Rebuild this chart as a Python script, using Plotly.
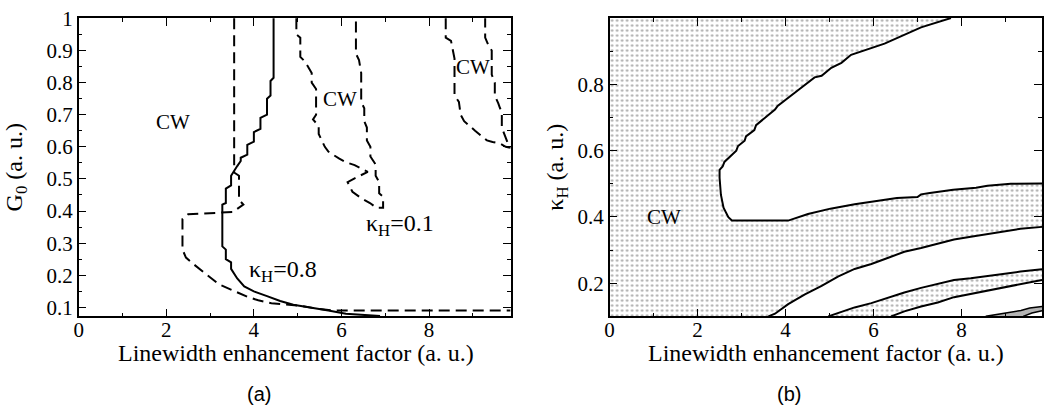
import plotly.graph_objects as go

# ---------------- data: panel (a) ----------------
XMAX_A = 9.86
YMIN_A = 0.072
YMAX_A = 1.001

# solid boundary (kappa_H = 0.8)
solid_x = [4.45, 4.45, 4.38, 4.38, 4.30, 4.30, 4.15, 4.15, 4.0, 4.0, 3.85, 3.85, 3.70, 3.70,
           3.62, 3.55, 3.48, 3.48, 3.36, 3.36, 3.28, 3.28, 3.36, 3.36, 3.48, 3.48, 3.62, 3.78,
           4.0, 4.3, 4.6, 4.9, 5.3, 5.7, 6.1, 6.88]
solid_y = [1.0, 0.815, 0.805, 0.76, 0.75, 0.70, 0.69, 0.656, 0.646, 0.616, 0.606, 0.576, 0.566,
           0.556, 0.54, 0.525, 0.51, 0.48, 0.47, 0.425, 0.42, 0.29, 0.28, 0.25, 0.24, 0.22, 0.19,
           0.165, 0.15, 0.135, 0.12, 0.108, 0.10, 0.09, 0.08, 0.073]

# dashed boundary, left branch
dash1_x = [3.55, 3.55, 3.66, 3.66, 3.76, 3.52, 2.5, 2.37, 2.37, 2.45, 2.62, 2.85, 3.0, 3.2, 3.4,
           3.62, 3.85, 4.1, 4.4, 4.7, 5.0, 5.4, 5.8, 9.86]
dash1_y = [1.0, 0.52, 0.51, 0.435, 0.42, 0.397, 0.39, 0.375, 0.28, 0.255, 0.235, 0.21, 0.193,
           0.172, 0.16, 0.146, 0.133, 0.122, 0.113, 0.109, 0.106, 0.097, 0.09, 0.09]

# dashed boundary, middle CW island
dash2_x = [4.97, 4.97, 5.06, 5.06, 5.17, 5.32, 5.32, 5.42, 5.42, 5.35, 5.48, 5.48, 5.62, 5.7,
           5.95, 6.1, 6.3, 6.6, 6.3, 6.14, 6.25, 6.45, 6.65, 6.8, 6.95, 6.95, 6.86, 6.86, 6.78,
           6.78, 6.66, 6.66, 6.58, 6.58, 6.52, 6.52, 6.45, 6.45, 6.40, 6.33, 6.33]
dash2_y = [1.0, 0.95, 0.94, 0.88, 0.865, 0.83, 0.80, 0.78, 0.70, 0.685, 0.665, 0.64, 0.60, 0.585,
           0.563, 0.552, 0.543, 0.522, 0.502, 0.49, 0.46, 0.44, 0.425, 0.41, 0.41, 0.445, 0.455,
           0.49, 0.51, 0.545, 0.57, 0.60, 0.62, 0.66, 0.68, 0.72, 0.74, 0.83, 0.87, 0.89, 1.0]

# dashed boundary, upper-right CW island
dash3_x = [8.38, 8.38, 8.5, 8.58, 8.58, 8.68, 8.72, 8.8, 9.05, 9.32, 9.45, 9.62, 9.75, 9.86,
           9.8, 9.72, 9.66, 9.66, 9.62, 9.58, 9.5, 9.5, 9.43, 9.43, 9.36, 9.28, 9.28]
dash3_y = [1.0, 0.94, 0.93, 0.875, 0.76, 0.74, 0.70, 0.68, 0.65, 0.62, 0.615, 0.61, 0.60, 0.597,
           0.61, 0.64, 0.66, 0.71, 0.72, 0.735, 0.76, 0.80, 0.825, 0.90, 0.915, 0.94, 1.0]

# ---------------- data: panel (b) ----------------
XMAX_B = 9.83
YMIN_B = 0.1
YMAX_B = 1.0

upper_x = [7.76, 7.08, 6.25, 5.95, 5.49, 5.27, 5.04, 4.82, 4.66, 4.29, 3.82, 3.76, 3.33, 3.29,
           3.10, 3.07, 2.92, 2.88, 2.73, 2.61, 2.57, 2.50, 2.50, 2.53, 2.59, 2.70, 2.78, 4.06,
           4.51, 5.02, 5.57, 5.77, 6.32, 6.53, 7.0, 7.08, 7.28, 7.81, 8.33, 8.59, 9.12, 9.83]
upper_y = [1.0, 0.972, 0.923, 0.909, 0.889, 0.865, 0.85, 0.826, 0.821, 0.783, 0.735, 0.724,
           0.677, 0.662, 0.643, 0.63, 0.614, 0.6, 0.581, 0.566, 0.552, 0.542, 0.518, 0.467,
           0.428, 0.399, 0.389, 0.389, 0.409, 0.425, 0.438, 0.442, 0.455, 0.457, 0.46, 0.468,
           0.472, 0.482, 0.488, 0.494, 0.5, 0.501]

c2_x = [3.61, 3.76, 4.06, 4.44, 4.82, 5.19, 5.57, 5.95, 6.32, 6.70, 7.08, 7.46, 7.83, 8.21,
        8.59, 8.97, 9.34, 9.83]
c2_y = [0.1, 0.108, 0.137, 0.166, 0.192, 0.22, 0.243, 0.258, 0.276, 0.295, 0.306, 0.318,
        0.332, 0.34, 0.348, 0.355, 0.364, 0.37]

c3_x = [4.97, 5.57, 5.95, 6.32, 6.70, 7.08, 7.46, 7.83, 8.21, 8.59, 8.97, 9.34, 9.83]
c3_y = [0.1, 0.127, 0.14, 0.156, 0.172, 0.186, 0.197, 0.21, 0.215, 0.222, 0.228, 0.235, 0.242]

c4_x = [6.4, 6.70, 7.08, 7.46, 7.83, 8.21, 8.59, 8.97, 9.34, 9.83]
c4_y = [0.1, 0.115, 0.13, 0.142, 0.158, 0.168, 0.177, 0.188, 0.197, 0.21]

c5a_x = [8.55, 9.1, 9.35, 9.55, 9.83]
c5a_y = [0.1, 0.112, 0.118, 0.125, 0.13]
c5b_x = [9.4, 9.6, 9.83]
c5b_y = [0.1, 0.11, 0.117]

# ---------------- figure ----------------
SERIF = "Liberation Serif, Times New Roman, serif"
SANS = "Liberation Sans, Arial, sans-serif"
DASH = "11px,6px"
W, H = 1047, 416

fig = go.Figure()

# panel (a) lines
fig.add_trace(go.Scatter(x=solid_x, y=solid_y, mode="lines", xaxis="x", yaxis="y",
                         line=dict(color="black", width=2)))
for dx, dy in [(dash1_x, dash1_y), (dash2_x, dash2_y), (dash3_x, dash3_y)]:
    fig.add_trace(go.Scatter(x=dx, y=dy, mode="lines", xaxis="x", yaxis="y",
                             line=dict(color="black", width=2, dash=DASH)))

# panel (b) dotted background (CW region)
fig.add_trace(go.Scatter(x=[0, XMAX_B, XMAX_B, 0, 0], y=[YMIN_B, YMIN_B, YMAX_B, YMAX_B, YMIN_B],
                         mode="none", fill="toself", xaxis="x2", yaxis="y2",
                         fillpattern=dict(shape=".", size=5, solidity=0.2,
                                          fgcolor="#5a5a5a", bgcolor="white")))
# white regions
white_regions = [
    (upper_x + [XMAX_B], upper_y + [YMAX_B]),
    (c2_x + c3_x[::-1], c2_y + c3_y[::-1]),
    (c4_x + [XMAX_B], c4_y + [YMIN_B]),
]
for wx, wy in white_regions:
    fig.add_trace(go.Scatter(x=wx, y=wy, mode="none", fill="toself", fillcolor="white",
                             xaxis="x2", yaxis="y2"))
# gray sliver
fig.add_trace(go.Scatter(x=c5a_x + c5b_x[::-1], y=c5a_y + c5b_y[::-1], mode="none",
                         fill="toself", fillcolor="#b4b4b4", xaxis="x2", yaxis="y2"))
# boundary curves
for cx, cy in [(upper_x, upper_y), (c2_x, c2_y), (c3_x, c3_y), (c4_x, c4_y)]:
    fig.add_trace(go.Scatter(x=cx, y=cy, mode="lines", xaxis="x2", yaxis="y2",
                             line=dict(color="black", width=2)))
for cx, cy in [(c5a_x, c5a_y), (c5b_x, c5b_y)]:
    fig.add_trace(go.Scatter(x=cx, y=cy, mode="lines", xaxis="x2", yaxis="y2",
                             line=dict(color="black", width=1.5)))

axis_common = dict(showline=True, linecolor="black", linewidth=1.5, mirror="ticks",
                   ticks="inside", ticklen=8, tickwidth=1, tickcolor="black",
                   showgrid=False, zeroline=False, ticklabeloverflow="allow",
                   tickfont=dict(family=SERIF, size=21, color="black"))

ydom = [(H - 316)/H, (H - 7.3)/H]
fig.update_layout(
    width=W, height=H,
    margin=dict(l=0, r=0, t=0, b=0),
    paper_bgcolor="white", plot_bgcolor="white",
    showlegend=False,
    xaxis=dict(domain=[74/W, 508/W], range=[0, XMAX_A],
               tickvals=[0, 2, 4, 6, 8], ticklabelstandoff=-6,
               minor=dict(tickvals=[1, 3, 5, 7, 9], ticks="inside", ticklen=4,
                          tickcolor="black"),
               anchor="y", **axis_common),
    yaxis=dict(domain=ydom, range=[YMIN_A, YMAX_A],
               tickvals=[0.1, 0.2, 0.3, 0.4, 0.5, 0.6, 0.7, 0.8, 0.9, 1.0],
               ticktext=["0.1", "0.2", "0.3", "0.4", "0.5", "0.6", "0.7", "0.8", "0.9", "1"],
               title=dict(text="G<sub>0</sub> (a. u.)",
                          font=dict(family=SERIF, size=24, color="black"), standoff=17),
               minor=dict(tickvals=[0.15, 0.25, 0.35, 0.45, 0.55, 0.65, 0.75, 0.85, 0.95],
                          ticks="inside", ticklen=4, tickcolor="black"),
               anchor="x", **axis_common),
    xaxis2=dict(domain=[607.5/W, 1042/W], range=[0, XMAX_B],
                tickvals=[0, 2, 4, 6, 8], ticklabelstandoff=-6,
                minor=dict(tickvals=[1, 3, 5, 7, 9], ticks="inside", ticklen=4,
                           tickcolor="black"),
                anchor="y2", **axis_common),
    yaxis2=dict(domain=ydom, range=[YMIN_B, YMAX_B],
                tickvals=[0.2, 0.4, 0.6, 0.8],
                title=dict(text="κ<sub>H</sub> (a. u.)",
                           font=dict(family=SERIF, size=24, color="black"), standoff=7),
                minor=dict(tickvals=[0.1, 0.3, 0.5, 0.7, 0.9], ticks="inside", ticklen=4,
                           tickcolor="black"),
                anchor="x2", **axis_common),
)

label_font = dict(family=SERIF, size=21, color="black")
title_font = dict(family=SERIF, size=24, color="black")
XTITLE = "Linewidth enhancement factor (a. u.)"
annotations = [
    dict(x=2.16, y=0.676, xref="x", yref="y", text="CW", showarrow=False, font=label_font),
    dict(x=5.96, y=0.749, xref="x", yref="y", text="CW", showarrow=False, font=label_font),
    dict(x=9.0, y=0.85, xref="x", yref="y", text="CW", showarrow=False, font=label_font),
    dict(x=3.85, y=0.212, xref="x", yref="y", text="κ<sub>H</sub>=0.8", showarrow=False,
         xanchor="left", yanchor="middle", font=dict(family=SERIF, size=24, color="black")),
    dict(x=6.52, y=0.358, xref="x", yref="y", text="κ<sub>H</sub>=0.1", showarrow=False,
         xanchor="left", yanchor="middle", font=dict(family=SERIF, size=24, color="black")),
    dict(x=1.24, y=0.401, xref="x2", yref="y2", text="CW", showarrow=False, font=label_font),
    # x-axis titles
    dict(x=292.5/W, y=(H - 354)/H, xref="paper", yref="paper", text=XTITLE, showarrow=False,
         xanchor="center", yanchor="middle", font=title_font),
    dict(x=825/W, y=(H - 354)/H, xref="paper", yref="paper", text=XTITLE, showarrow=False,
         xanchor="center", yanchor="middle", font=title_font),
    # panel labels
    dict(x=255/W, y=(H - 396)/H, xref="paper", yref="paper", text="(a)", showarrow=False,
         xanchor="center", yanchor="middle", font=dict(family=SANS, size=20, color="black")),
    dict(x=788/W, y=(H - 396)/H, xref="paper", yref="paper", text="(b)", showarrow=False,
         xanchor="center", yanchor="middle", font=dict(family=SANS, size=20, color="black")),
]
fig.update_layout(annotations=annotations)

fig.write_html("out.html", config={"displayModeBar": False},
               post_script="document.body.style.margin='0px';")
